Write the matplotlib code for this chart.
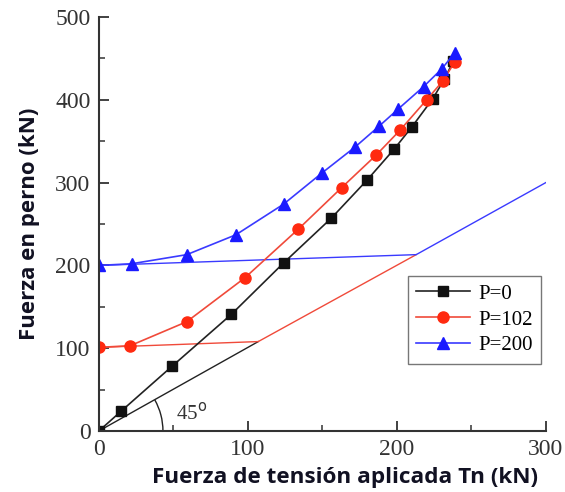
import numpy as np
import matplotlib.pyplot as plt
from matplotlib.patches import Arc
from matplotlib.ticker import MultipleLocator

# datos
p0_x = [0, 15, 49, 89, 124, 156, 180, 198, 210, 224, 232, 238]
p0_y = [0, 24, 78, 141, 203, 257, 303, 340, 367, 401, 425, 447]
p102_x = [0, 21, 59, 98, 134, 163, 186, 202, 220, 231, 239]
p102_y = [101, 103, 132, 185, 244, 294, 333, 363, 400, 423, 446]
p200_x = [0, 22, 59, 92, 124, 150, 172, 188, 201, 218, 230, 239]
p200_y = [200, 202, 213, 237, 274, 312, 343, 368, 389, 416, 437, 457]

# lineas teoricas (sin marcadores)
t0_x = [0, 107]
t0_y = [0, 108]
t102_x = [0, 107, 213]
t102_y = [101, 108, 213]
t200_x = [0, 213, 300]
t200_y = [200, 213, 300]

labels = ["P=0", "P=102", "P=200"]

c_black = "#111111"
c_red = "#ff2a10"
c_blue = "#1a1aff"

fig = plt.figure(figsize=(5.65, 4.92), dpi=100)
ax = fig.add_axes([0.175, 0.124, 0.791, 0.8414])

ax.plot(t0_x, t0_y, color="#222222", lw=1.0)
ax.plot(t102_x, t102_y, color="#f04a3a", lw=1.0)
ax.plot(t200_x, t200_y, color="#3a3aff", lw=1.0)

ax.plot(p0_x, p0_y, color="#222222", lw=1.2, marker="s", ms=7,
        mfc=c_black, mec=c_black, label=labels[0])
ax.plot(p102_x, p102_y, color="#f04a3a", lw=1.2, marker="o", ms=8,
        mfc=c_red, mec=c_red, label=labels[1])
ax.plot(p200_x, p200_y, color="#3a3aff", lw=1.2, marker="^", ms=8,
        mfc=c_blue, mec=c_blue, label=labels[2])

# arco de 45 grados
ax.add_patch(Arc((0, 0), 86, 154, theta1=0, theta2=45, color="#222222", lw=1.0))
ax.text(52, 14, "45$^{\\rm o}$", fontsize=15, family="Liberation Serif", color="#333333")

ax.set_xlim(0, 300)
ax.set_ylim(0, 500)
ax.xaxis.set_major_locator(MultipleLocator(100))
ax.xaxis.set_minor_locator(MultipleLocator(50))
ax.yaxis.set_major_locator(MultipleLocator(100))
ax.yaxis.set_minor_locator(MultipleLocator(50))

for s in ["top", "right"]:
    ax.spines[s].set_visible(False)
for s in ["left", "bottom"]:
    ax.spines[s].set_linewidth(1.5)
    ax.spines[s].set_color("#333333")

ax.tick_params(which="major", direction="in", length=7, width=1.3, color="#333333",
               labelsize=17, labelcolor="#333333", pad=6)
ax.tick_params(which="minor", direction="in", length=4, width=1.1, color="#333333")
for lab in ax.get_xticklabels() + ax.get_yticklabels():
    lab.set_family("Liberation Serif")

ax.set_xlabel("Fuerza de tensión aplicada Tn (kN)", fontsize=16.2, fontweight="bold",
              family="Open Sans", color="#111122", labelpad=5)
ax.xaxis.label.set_x(0.55)
ax.set_ylabel("Fuerza en perno (kN)", fontsize=16, fontweight="bold",
              family="Open Sans", color="#111122", labelpad=11)

leg = ax.legend(loc="upper right", bbox_to_anchor=(0.99, 0.375), fancybox=False,
                prop={"family": "Liberation Serif", "size": 15}, handlelength=2.6,
                borderpad=0.4, labelspacing=0.3, handletextpad=0.4, borderaxespad=0)
leg.get_frame().set_edgecolor("#555555")
leg.get_frame().set_linewidth(1.0)

fig.savefig("out.png", dpi=100)
